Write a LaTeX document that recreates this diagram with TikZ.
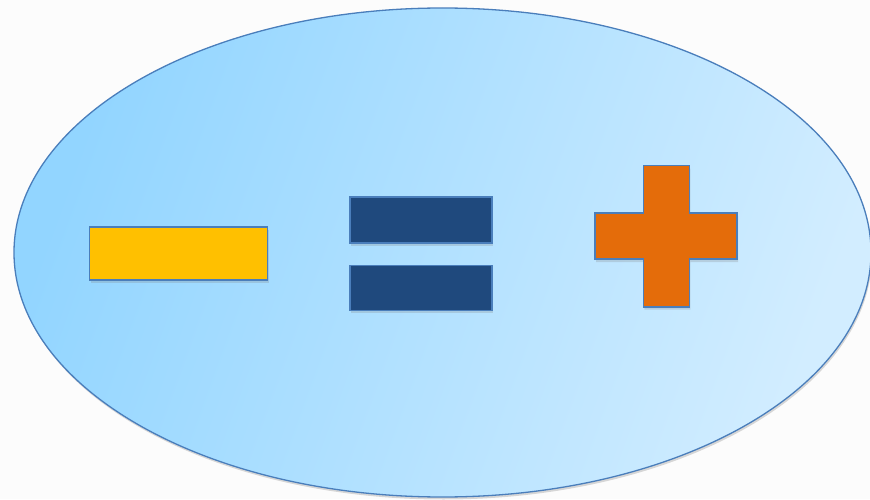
\documentclass[tikz,border=0pt]{standalone}
\usepackage{xcolor}
\usepackage{tikz}
\usetikzlibrary{positioning,shapes.geometric,shadows}

\definecolor{ovalDark}{HTML}{92D5FF}
\definecolor{ovalLight}{HTML}{D2EDFF}
\definecolor{lineBlue}{HTML}{4A7EBB}
\definecolor{minusGold}{HTML}{FFC000}
\definecolor{equalNavy}{HTML}{1F497D}
\definecolor{plusOrange}{HTML}{E46C0A}
\definecolor{pageGrey}{HTML}{FCFCFC}

\begin{document}
\begin{tikzpicture}[
  x=1pt, y=1pt,
  oval/.style={
    ellipse, draw=lineBlue, line width=1.3pt,
    top color=ovalDark, bottom color=ovalLight, shading angle=70,
    minimum width=857pt, minimum height=489pt, inner sep=0pt,
    drop shadow={shadow xshift=1pt, shadow yshift=-2.5pt, opacity=0.3}
  },
  bar/.style={
    rectangle, draw=lineBlue, line width=1.6pt, inner sep=0pt,
    drop shadow={shadow xshift=1pt, shadow yshift=-3pt, opacity=0.25}
  },
  plusbar/.style={
    draw=lineBlue, line width=1.6pt, fill=plusOrange,
    drop shadow={shadow xshift=1pt, shadow yshift=-3pt, opacity=0.25}
  }
]

% Background
\fill[pageGrey] (0,0) rectangle (870,499);
\useasboundingbox (0,0) rectangle (870,499);

% Oval
\node[oval] (oval) at (442.5,246.5) {};

% Minus
\node[bar, fill=minusGold, minimum width=178pt, minimum height=53pt] (minus) at (178.6,245.6) {};

% Equals
\node[bar, fill=equalNavy, minimum width=142pt, minimum height=46pt] (eqtop) at (421,279.3) {};
\node[bar, fill=equalNavy, minimum width=142pt, minimum height=45pt, below=21pt of eqtop] (eqbot) {};

% Plus
\coordinate (plus) at (666.3,262.8);
\draw[plusbar, shift={(plus)}]
  (-23,70.5) -- (23,70.5) -- (23,23) -- (70.8,23) -- (70.8,-23) -- (23,-23)
  -- (23,-70.5) -- (-23,-70.5) -- (-23,-23) -- (-71.3,-23) -- (-71.3,23)
  -- (-23,23) -- cycle;

\end{tikzpicture}
\end{document}
